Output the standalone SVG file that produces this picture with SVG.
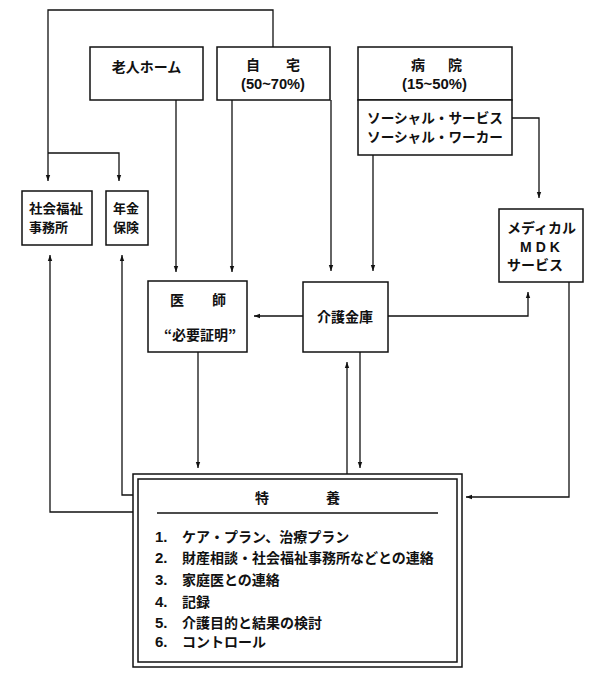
<svg xmlns="http://www.w3.org/2000/svg" width="600" height="677" viewBox="0 0 600 677">
<style>
.box{fill:#fff;stroke:#111;stroke-width:1.5}
.ln{fill:none;stroke:#111;stroke-width:1.3}
.t{font-family:"Noto Sans CJK JP","Liberation Sans",sans-serif;font-size:14px;fill:#111;font-weight:bold}
.s{font-family:"Noto Sans CJK JP","Liberation Sans",sans-serif;font-size:13px;fill:#111;font-weight:bold}
.n{font-family:"Liberation Sans","Noto Sans CJK JP",sans-serif;font-size:15px;fill:#111;font-weight:bold}
</style>
<defs>
<marker id="ah" viewBox="0 0 6 6" refX="6" refY="3" markerWidth="6" markerHeight="6" markerUnits="userSpaceOnUse" orient="auto">
<path d="M0,0.8 L6,3 L0,5.2 Z" fill="#111"/>
</marker>
</defs>
<rect width="600" height="677" fill="#fff"/>

<g id="connectors">
<path class="ln" d="M273,47 V10 H48 V181" marker-end="url(#ah)"/>
<path class="ln" d="M48,153 H119 V181" marker-end="url(#ah)"/>
<path class="ln" d="M176,100 V272" marker-end="url(#ah)"/>
<path class="ln" d="M232,100 V272" marker-end="url(#ah)"/>
<path class="ln" d="M331,100 V271" marker-end="url(#ah)"/>
<path class="ln" d="M373,155 V271" marker-end="url(#ah)"/>
<path class="ln" d="M512,118 H539 V198" marker-end="url(#ah)"/>
<path class="ln" d="M303,316 H254" marker-end="url(#ah)"/>
<path class="ln" d="M388,316 H528 V292" marker-end="url(#ah)"/>
<path class="ln" d="M198,352 V468" marker-end="url(#ah)"/>
<path class="ln" d="M360,352 V468" marker-end="url(#ah)"/>
<path class="ln" d="M347,474 V362" marker-end="url(#ah)"/>
<path class="ln" d="M133,495 H122 V255" marker-end="url(#ah)"/>
<path class="ln" d="M133,512 H50 V255" marker-end="url(#ah)"/>
<path class="ln" d="M569,282 V497 H466" marker-end="url(#ah)"/>
</g>

<g id="roujin-home">
<rect class="box" x="90" y="47" width="113" height="53"/>
<text class="t" x="146.5" y="72" text-anchor="middle">老人ホーム</text>
</g>

<g id="jitaku">
<rect class="box" x="217" y="47" width="113" height="53"/>
<text class="t" x="253" y="70" text-anchor="middle">自</text>
<text class="t" x="293" y="70" text-anchor="middle">宅</text>
<text class="n" x="241" y="89" textLength="64" lengthAdjust="spacingAndGlyphs">(50~70%)</text>
</g>

<g id="byouin">
<rect class="box" x="358" y="47" width="154" height="53"/>
<rect class="box" x="358" y="100" width="154" height="55"/>
<text class="t" x="418" y="70" text-anchor="middle">病</text>
<text class="t" x="455" y="70" text-anchor="middle">院</text>
<text class="n" x="402" y="89" textLength="65" lengthAdjust="spacingAndGlyphs">(15~50%)</text>
<text class="t" x="367" y="123" textLength="136" lengthAdjust="spacingAndGlyphs">ソーシャル・サービス</text>
<text class="t" x="367" y="142" textLength="136" lengthAdjust="spacingAndGlyphs">ソーシャル・ワーカー</text>
</g>

<g id="shakai-fukushi">
<rect class="box" x="22" y="191" width="70" height="54"/>
<text class="s" x="29" y="213" textLength="54" lengthAdjust="spacingAndGlyphs">社会福祉</text>
<text class="s" x="29" y="232">事務所</text>
</g>

<g id="nenkin">
<rect class="box" x="106" y="191" width="42" height="54"/>
<text class="s" x="113" y="213">年金</text>
<text class="s" x="113" y="232">保険</text>
</g>

<g id="ishi">
<rect class="box" x="148" y="281" width="99" height="71"/>
<text class="t" x="177" y="305" text-anchor="middle">医</text>
<text class="t" x="219" y="305" text-anchor="middle">師</text>
<text class="t" x="200" y="340" text-anchor="middle">“必要証明”</text>
</g>

<g id="kaigo-kinko">
<rect class="box" x="303" y="282" width="85" height="70"/>
<text class="t" x="345" y="322" text-anchor="middle">介護金庫</text>
</g>

<g id="medical">
<rect class="box" x="499" y="209" width="84" height="73"/>
<text class="t"><tspan x="507" y="233">メディカル</tspan><tspan x="520" y="252" font-family="Liberation Sans, sans-serif" letter-spacing="4">MDK</tspan><tspan x="507" y="270">サービス</tspan></text>
</g>

<g id="tokuyou">
<rect x="133" y="474" width="329" height="193" fill="#fff" stroke="#111" stroke-width="1.5"/>
<rect x="138" y="479" width="319" height="183" fill="none" stroke="#111" stroke-width="1.5"/>
<text class="t" x="262" y="503" text-anchor="middle">特</text>
<text class="t" x="333" y="503" text-anchor="middle">養</text>
<line x1="157" y1="513" x2="438" y2="513" stroke="#111" stroke-width="1.5"/>
<text class="n" x="155" y="542">1.</text><text class="t" x="182" y="542">ケア・プラン、治療プラン</text>
<text class="n" x="155" y="563">2.</text><text class="t" x="182" y="563">財産相談・社会福祉事務所などとの連絡</text>
<text class="n" x="155" y="585">3.</text><text class="t" x="182" y="585">家庭医との連絡</text>
<text class="n" x="155" y="607">4.</text><text class="t" x="182" y="607">記録</text>
<text class="n" x="155" y="628">5.</text><text class="t" x="182" y="628">介護目的と結果の検討</text>
<text class="n" x="155" y="647">6.</text><text class="t" x="182" y="647">コントロール</text>
</g>
</svg>
